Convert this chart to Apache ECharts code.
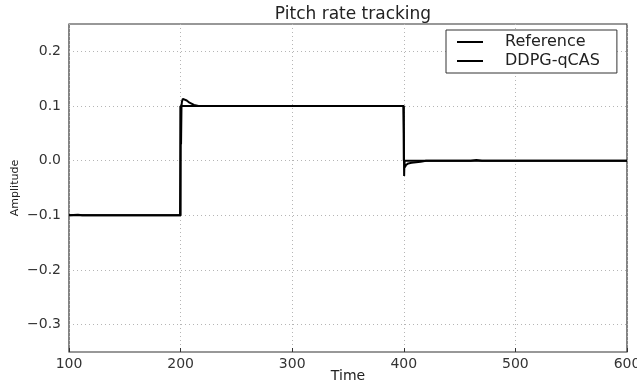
<!DOCTYPE html>
<html><head><meta charset="utf-8">
<script src="https://cdn.jsdelivr.net/npm/echarts@6/dist/echarts.min.js"></script>
<style>html,body{margin:0;padding:0;background:#fff}#c{width:637px;height:383px}</style>
</head><body><div id="c"></div>
<script>
const xTicks = [100, 200, 300, 400, 500, 600];
const yTicks = [-0.3, -0.2, -0.1, 0.0, 0.1, 0.2];
const refTime  = [100, 200, 200, 400, 400, 600];
const refValue = [-0.1, -0.1, 0.1, 0.1, 0.0, 0.0];
const ddpgTime  = [100, 108, 112, 125, 135, 160, 170, 185, 199.5, 200, 200.4, 200.8, 201.2, 202, 203.5, 205.5, 208, 212, 216, 222, 230, 240, 250, 300, 350, 399.6, 400, 400.3, 400.6, 401, 402, 404, 407, 411, 415, 420, 440, 460, 465, 470, 500, 600];
const ddpgValue = [-0.1, -0.099, -0.1, -0.1, -0.1, -0.1, -0.1, -0.1, -0.1, 0.1, 0.03, 0.1, 0.108, 0.113, 0.113, 0.11, 0.106, 0.102, 0.1, 0.1, 0.1, 0.1, 0.1, 0.1, 0.1, 0.1, 0.05, -0.028, 0.0, -0.012, -0.008, -0.005, -0.004, -0.003, -0.002, 0.0, 0.0, 0.0, 0.001, 0.0, 0.0, 0.0];
const refData = refTime.map((t, i) => [t, refValue[i]]);
const ddpgData = ddpgTime.map((t, i) => [t, ddpgValue[i]]);
const font = 'DejaVu Sans';
const gridStyle = { color: '#b5b5b5', type: [1, 3], width: 1 };
const chart = echarts.init(document.getElementById('c'));
chart.setOption({
  animation: false,
  backgroundColor: '#fff',
  title: { text: 'Pitch rate tracking', left: 348, top: 1, textAlign: 'center',
    textStyle: { fontFamily: font, fontSize: 17, fontWeight: 'normal', color: '#222' } },
  grid: { left: 69, right: 10, top: 24, bottom: 31, containLabel: false, outerBoundsMode: 'none',
    show: true, borderColor: '#333', borderWidth: 1.2 },
  legend: {
    left: 446, top: 30, orient: 'vertical', itemWidth: 26, itemHeight: 12, itemGap: 3,
    padding: [4, 17, 4, 11], borderColor: '#333', borderWidth: 1, backgroundColor: '#fff',
    icon: 'path://M0,5 L26,5 L26,7 L0,7 Z',
    textStyle: { fontFamily: font, fontSize: 16, color: '#222', padding: [0, 0, 0, 17] },
    data: ['Reference', 'DDPG-qCAS']
  },
  xAxis: {
    type: 'value', min: 100, max: 600, interval: 100,
    name: 'Time', nameLocation: 'middle', nameGap: 17, nameMoveOverlap: false,
    nameTextStyle: { fontFamily: font, fontSize: 14, color: '#222' },
    axisLine: { show: false, onZero: false },
    axisTick: { show: true, inside: true, length: 4, lineStyle: { color: '#333' } },
    axisLabel: { fontFamily: font, fontSize: 14, color: '#333', margin: 5 },
    splitLine: { show: true, lineStyle: gridStyle }
  },
  yAxis: {
    type: 'value', min: -0.35, max: 0.25, interval: 0.05,
    name: 'Amplitude', nameLocation: 'middle', nameGap: 48, nameMoveOverlap: false,
    nameTextStyle: { fontFamily: font, fontSize: 11, color: '#222' },
    axisLine: { show: false, onZero: false },
    axisTick: { show: false },
    axisLabel: { fontFamily: font, fontSize: 14, color: '#333', margin: 8,
      formatter: v => {
        const r = Math.round(v * 100) / 100;
        if (Math.abs(Math.round(r * 10) - r * 10) > 1e-6) return '';
        if (Math.abs(r) < 1e-9) return '0.0';
        return (r < 0 ? '\u2212' : '') + Math.abs(r).toFixed(1);
      } },
    splitLine: { show: false }
  },
  series: [
    { name: 'Reference', type: 'line', data: refData, showSymbol: false, symbol: 'none',
      lineStyle: { color: '#000', width: 2 }, itemStyle: { color: '#000' }, z: 3,
      markLine: { silent: true, symbol: 'none', label: { show: false }, z: 1,
        lineStyle: gridStyle, data: yTicks.map(v => ({ yAxis: v })) } },
    { name: 'DDPG-qCAS', type: 'line', data: ddpgData, showSymbol: false, symbol: 'none',
      lineStyle: { color: '#000', width: 2 }, itemStyle: { color: '#000' }, z: 4 }
  ]
});
</script></body></html>
